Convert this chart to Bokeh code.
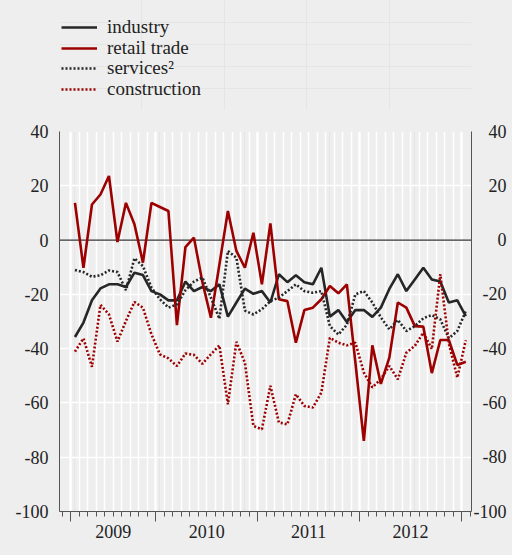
from bokeh.plotting import figure
from bokeh.layouts import column
from bokeh.models import (Range1d, LinearAxis, FixedTicker, Grid, Span, Legend,
                          LegendItem, ColumnDataSource)
from bokeh.embed import file_html
from bokeh.resources import INLINE

# ---------------- data ----------------
months = list(range(47))
industry = [-35.7, -30.4, -22.2, -17.8, -16.3, -16.3, -17.3, -12.0, -12.9, -18.8,
            -20.0, -22.2, -22.2, -15.3, -18.8, -17.3, -18.8, -16.3, -28.2, -23.0,
            -17.9, -19.8, -18.8, -23.0, -12.6, -15.5, -13.0, -15.5, -16.3, -10.2,
            -28.2, -25.8, -30.2, -25.8, -25.8, -28.3, -24.9, -18.0, -12.6, -18.8,
            -14.5, -10.2, -14.5, -15.3, -23.0, -22.2, -28.0]
retail = [13.7, -10.2, 13.1, 16.8, 23.6, -0.7, 13.7, 5.8, -8.3, 13.7,
          12.2, 10.7, -31.3, -2.6, 0.9, -15.5, -28.6, -9.0, 10.7, -4.0,
          -10.2, 2.7, -16.3, 6.1, -21.8, -22.5, -37.8, -25.8, -24.9, -21.8,
          -16.9, -19.6, -16.3, -45.0, -74.0, -38.8, -53.0, -43.3, -23.0, -24.9,
          -31.7, -31.9, -49.0, -36.8, -36.8, -46.0, -44.8]
services = [-11.0, -11.8, -13.5, -13.0, -11.2, -11.8, -18.5, -6.7, -9.6, -17.5,
            -21.8, -24.9, -23.7, -18.5, -15.3, -13.8, -21.2, -29.0, -4.0, -6.5,
            -26.0, -27.4, -25.5, -22.5, -21.2, -18.8, -16.3, -18.8, -19.4, -18.8,
            -31.7, -34.8, -31.2, -20.0, -18.8, -23.0, -28.5, -32.9, -29.4, -33.5,
            -31.7, -28.8, -27.6, -29.2, -36.2, -33.5, -26.1]
construction = [-41.1, -36.2, -46.7, -23.9, -27.4, -37.4, -29.8, -22.8, -24.9, -34.7,
                -42.1, -43.6, -46.4, -41.8, -42.3, -45.6, -42.1, -38.8, -60.5, -37.5,
                -45.2, -68.5, -69.7, -53.7, -67.2, -67.9, -56.8, -61.1, -61.7, -56.2,
                -36.0, -37.8, -38.8, -37.8, -48.8, -54.3, -51.2, -46.4, -51.3, -41.5,
                -39.0, -34.1, -40.2, -12.6, -38.0, -50.7, -36.9]

years = ["2009", "2010", "2011", "2012"]
year_months = [10, 12, 12, 12]
y_ticks = [40, 20, 0, -20, -40, -60, -80, -100]
y_labels = ["40", "20", "0", "-20", "-40", "-60", "-80", "-100"]
series_names = ["industry", "retail", "services", "construction"]
legend_labels = ["industry", "retail trade", "services\u00b2", "construction"]

# ---------------- derived tick positions ----------------
year_bounds = [-0.5]
for n in year_months:
    year_bounds.append(year_bounds[-1] + n)
year_centers = [(a + b) / 2 for a, b in zip(year_bounds[:-1], year_bounds[1:])]
month_ticks = [m - 1.5 for m in range(len(months) + 2)]
grid_months = [m - 0.5 for m in range(len(months))]

FONT = "Liberation Serif"
RED = "#9c0000"
BLACK = "#262626"
BG = "#eeeeee"
W = 512
LEG_H = 110
ROW0, ROW_PITCH, ROW_HALF = 26, 20.7, 12
STYLES = [dict(line_color=BLACK, line_width=2.6),
          dict(line_color=RED, line_width=2.6),
          dict(line_color=BLACK, line_width=2.6, line_dash="2 2"),
          dict(line_color=RED, line_width=2.6, line_dash="2 2")]

src = ColumnDataSource(dict(month=months, industry=industry, retail=retail,
                            services=services, construction=construction))

# ---------------- legend strip (series drawn far outside its view) ----------------
pl = figure(width=W, height=LEG_H, x_range=Range1d(0, 1), y_range=Range1d(1000, 1001),
            output_backend="svg", toolbar_location=None,
            x_axis_location=None, y_axis_location=None,
            background_fill_color=BG, border_fill_color=BG, outline_line_color=None,
            min_border=0)
leg_r = [pl.line("month", col, source=src, **st) for col, st in zip(series_names, STYLES)]
for k, (lab, r) in enumerate(zip(legend_labels, leg_r)):
    centre = ROW0 + k * ROW_PITCH
    pl.add_layout(Legend(items=[LegendItem(label=lab, renderers=[r])],
                         location=(2, round(LEG_H - centre - ROW_HALF)),
                         orientation="vertical",
                         border_line_color=None, background_fill_alpha=0,
                         padding=0, margin=0, spacing=0,
                         glyph_width=36, glyph_height=18, label_height=18,
                         label_standoff=10,
                         label_text_font=FONT, label_text_font_size="19px",
                         label_text_color="#222222"))

# ---------------- main chart ----------------
p = figure(width=W, height=555 - LEG_H, x_range=Range1d(-1.82, 46.67),
           y_range=Range1d(-100, 40),
           output_backend="svg", toolbar_location=None,
           x_axis_location=None, y_axis_location=None,
           background_fill_color=BG, border_fill_color=BG, outline_line_color=None,
           min_border_left=59, min_border_right=41, min_border_top=131 - LEG_H,
           min_border_bottom=44)

gx = Grid(dimension=0, ticker=FixedTicker(ticks=grid_months),
          grid_line_color="white", grid_line_width=1.5)
gxy = Grid(dimension=0, ticker=FixedTicker(ticks=year_bounds),
           grid_line_color="white", grid_line_width=2.2)
gy = Grid(dimension=1, ticker=FixedTicker(ticks=y_ticks),
          grid_line_color="white", grid_line_width=1.5)
p.add_layout(gx)
p.add_layout(gxy)
p.add_layout(gy)
p.add_layout(Span(location=0, dimension="width", line_color="#333333",
                  line_width=1.3, level="underlay"))


def yaxis(labels, standoff):
    return LinearAxis(ticker=FixedTicker(ticks=y_ticks, minor_ticks=[]),
                      major_label_overrides=dict(zip(y_ticks, labels)),
                      major_tick_out=0, major_tick_in=0, minor_tick_out=0, minor_tick_in=0,
                      major_tick_line_color=None, minor_tick_line_color=None,
                      axis_line_color="#555555", axis_line_width=1,
                      major_label_standoff=standoff,
                      major_label_text_font=FONT, major_label_text_font_size="18px",
                      major_label_text_color="#222222")


def pad(s):
    n_minus = 1 - s.count("-")
    n_dig = 3 - sum(c.isdigit() for c in s)
    return "\u2004" * n_minus + "\u2007" * n_dig + s


p.add_layout(yaxis(y_labels, 11), "left")
p.add_layout(yaxis([pad(s) for s in y_labels], 2), "right")

ax_ticks = LinearAxis(ticker=FixedTicker(ticks=year_bounds, minor_ticks=month_ticks),
                      major_label_overrides={t: "" for t in year_bounds},
                      major_tick_out=10, major_tick_in=0, minor_tick_out=5, minor_tick_in=0,
                      axis_line_color="#555555", major_tick_line_color="#555555",
                      minor_tick_line_color="#555555",
                      major_label_text_font_size="0px", major_label_standoff=0)
ax_years = LinearAxis(ticker=FixedTicker(ticks=year_centers, minor_ticks=[]),
                      major_label_overrides=dict(zip(year_centers, years)),
                      axis_line_color=None, major_tick_line_color=None,
                      minor_tick_line_color=None, major_tick_out=0, major_tick_in=0,
                      major_label_standoff=3,
                      major_label_text_font=FONT, major_label_text_font_size="18px",
                      major_label_text_color="#222222")
p.add_layout(ax_ticks, "below")
p.add_layout(ax_years, "below")

for col, st in zip(series_names, STYLES):
    p.line("month", col, source=src, **st)

layout = column(pl, p, spacing=0, styles={"background-color": BG})
open("out.html", "w").write(file_html(layout, INLINE))
